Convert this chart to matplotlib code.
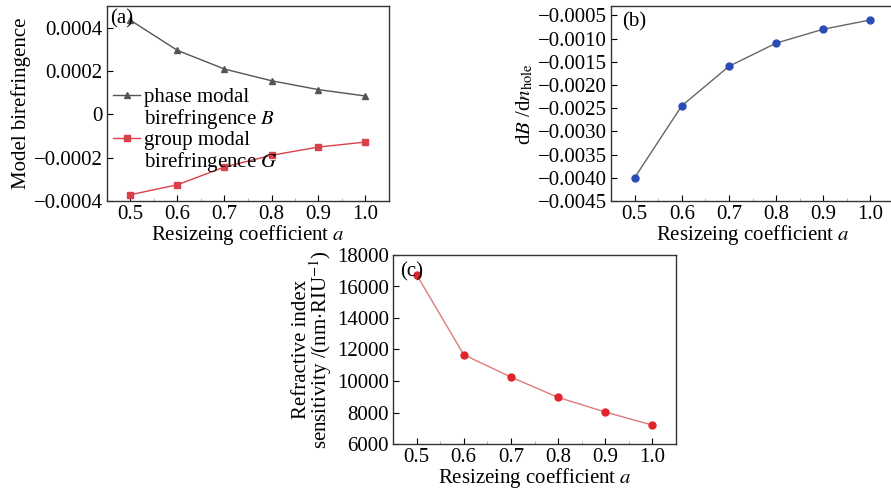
import matplotlib
matplotlib.use("Agg")
import matplotlib.pyplot as plt
from matplotlib.lines import Line2D
from matplotlib.ticker import FixedLocator, FuncFormatter, MultipleLocator

plt.rcParams["font.family"] = ["Liberation Serif", "DejaVu Serif"]
plt.rcParams["mathtext.fontset"] = "stix"
plt.rcParams["font.size"] = 15
plt.rcParams["axes.unicode_minus"] = True

# Data
coeff = [0.5, 0.6, 0.7, 0.8, 0.9, 1.0]
phase_B = [0.000434, 0.000295, 0.000209, 0.000155, 0.000114, 0.0000845]
group_G = [-0.000371, -0.000325, -0.000243, -0.000189, -0.000151, -0.000128]
dB_dn = [-0.0040, -0.00245, -0.0016, -0.0011, -0.0008, -0.0006]
sensitivity = [16750, 11670, 10250, 8960, 8030, 7200]

x_ticks = [0.5, 0.6, 0.7, 0.8, 0.9, 1.0]
a_yticks = [-0.0004, -0.0002, 0.0, 0.0002, 0.0004]
b_yticks = [-0.0045, -0.0040, -0.0035, -0.0030, -0.0025, -0.0020, -0.0015, -0.0010, -0.0005]
c_yticks = [6000, 8000, 10000, 12000, 14000, 16000, 18000]

W, H = 891, 490
fig = plt.figure(figsize=(W / 100, H / 100), dpi=100)


def box(left, top, right, bottom):
    return [left / W, 1 - bottom / H, (right - left) / W, (bottom - top) / H]


def minus(s):
    return s.replace("-", "\u2212")


def style_axes(ax):
    ax.set_xlim(0.45, 1.05)
    ax.xaxis.set_major_locator(FixedLocator(x_ticks))
    ax.xaxis.set_major_formatter(FuncFormatter(lambda v, p: f"{v:.1f}"))
    ax.xaxis.set_minor_locator(MultipleLocator(0.05))
    ax.tick_params(direction="in", which="both", labelsize=15, pad=3)
    ax.tick_params(which="major", length=4, width=0.8)
    ax.tick_params(which="minor", length=2, width=0.5, color="#999999")
    for sp in ax.spines.values():
        sp.set_linewidth(1.0)
        sp.set_color("#333333")
    ax.set_xlabel("Resizeing coefficient $a$", fontsize=15, labelpad=-1)


# (a)
ax_a = fig.add_axes(box(107, 6, 389, 201))
line_b, = ax_a.plot(coeff, phase_B, color="#555555", lw=1.0, marker="^", ms=4.5)
line_g, = ax_a.plot(coeff, group_G, color="#d9414a", lw=1.0, marker="s", ms=4)
ax_a.set_ylim(-0.0004, 0.0005)
ax_a.yaxis.set_major_locator(FixedLocator(a_yticks))
ax_a.yaxis.set_major_formatter(FuncFormatter(
    lambda v, p: "0" if abs(v) < 1e-12 else minus(f"{v:.4f}")))
style_axes(ax_a)
ax_a.set_ylabel("Model birefringence", fontsize=15, labelpad=2)
ax_a.text(0.01, 0.985, "(a)", transform=ax_a.transAxes, ha="left", va="top", fontsize=15)
blank = Line2D([], [], alpha=0)
ax_a.legend([line_b, blank, line_g, blank],
            ["phase modal", "birefringence $B$", "group modal", "birefringence $G$"],
            loc="upper left", bbox_to_anchor=(0.0, 0.615), frameon=False,
            fontsize=15, handlelength=1.3, handletextpad=0.2, labelspacing=0.0,
            borderpad=0.0, borderaxespad=0.3)

# (b)
ax_b = fig.add_axes(box(611, 6, 894, 201))
ax_b.plot(coeff, dB_dn, color="#666666", lw=1.0, marker="o", ms=5,
          mfc="#2a4db5", mec="#2a4db5")
ax_b.set_ylim(-0.0045, -0.0003)
ax_b.yaxis.set_major_locator(FixedLocator(b_yticks))
ax_b.yaxis.set_major_formatter(FuncFormatter(lambda v, p: minus(f"{v:.4f}")))
style_axes(ax_b)
ax_b.set_ylabel(r"d$B$ /d$n_{\rm hole}$", fontsize=15, labelpad=2)
ax_b.text(0.04, 0.97, "(b)", transform=ax_b.transAxes, ha="left", va="top", fontsize=15)

# (c)
ax_c = fig.add_axes(box(393, 255, 676, 444))
ax_c.plot(coeff, sensitivity, color="#e07a7a", lw=1.0, marker="o", ms=5,
          mfc="#e0242a", mec="#e0242a")
ax_c.set_ylim(6000, 18000)
ax_c.yaxis.set_major_locator(FixedLocator(c_yticks))
ax_c.yaxis.set_major_formatter(FuncFormatter(lambda v, p: f"{int(v)}"))
style_axes(ax_c)
ax_c.set_ylabel("Refractive index\nsensitivity /(nm$\\cdot$RIU$^{-1}$)",
                fontsize=15, labelpad=2, linespacing=0.8)
ax_c.text(0.025, 0.96, "(c)", transform=ax_c.transAxes, ha="left", va="top", fontsize=15)

fig.savefig("out.png", dpi=100)
